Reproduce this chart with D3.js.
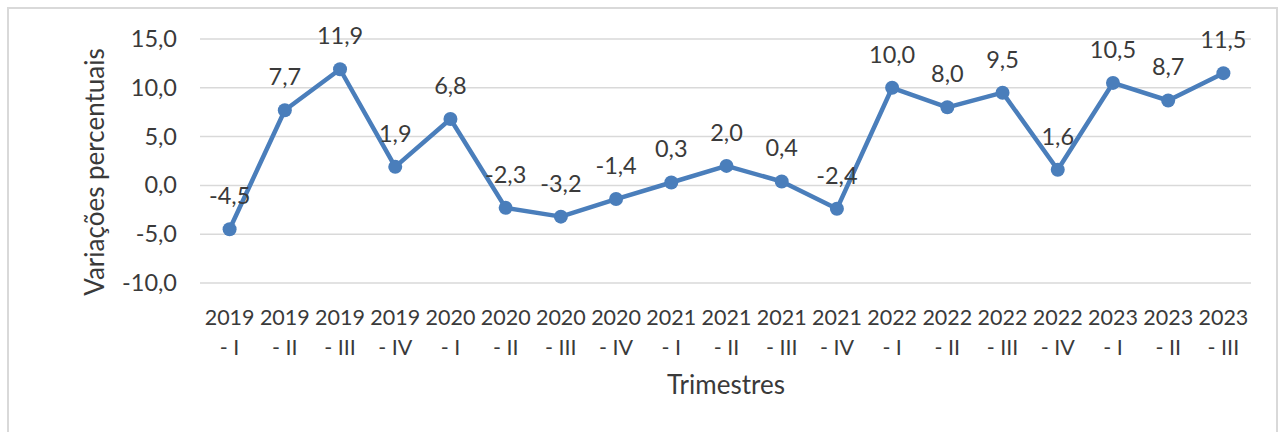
<!DOCTYPE html>
<html><head><meta charset="utf-8">
<script src="https://cdn.jsdelivr.net/npm/d3@7"></script>
<style>
html,body{margin:0;padding:0;background:#fff;}
svg{display:block;}
text{font-family:Lato,"Open Sans",sans-serif;fill:#3a3a3a;}
</style></head><body>
<svg id="chart" width="1280" height="432"></svg>
<script>
const categories = ["2019 - I","2019 - II","2019 - III","2019 - IV","2020 - I","2020 - II","2020 - III","2020 - IV","2021 - I","2021 - II","2021 - III","2021 - IV","2022 - I","2022 - II","2022 - III","2022 - IV","2023 - I","2023 - II","2023 - III"];
const values = [-4.5,7.7,11.9,1.9,6.8,-2.3,-3.2,-1.4,0.3,2.0,0.4,-2.4,10.0,8.0,9.5,1.6,10.5,8.7,11.5];
const yTicks = [-10,-5,0,5,10,15];
const yTitle = "Variações percentuais";
const xTitle = "Trimestres";

const svg = d3.select("#chart");
const fmt = v => d3.format(".1f")(v).replace("−", "-").replace(".", ",");

svg.append("rect").attr("x",8).attr("y",8).attr("width",1269).attr("height",440)
  .attr("fill","#fff").attr("stroke","#d9d9d9").attr("stroke-width",2);

const x = d3.scaleBand().domain(categories).range([202,1251]);
const y = d3.scaleLinear().domain([-10,15]).range([283,39]);

// gridlines
svg.append("g").selectAll("line").data(yTicks).join("line")
  .attr("x1",200).attr("x2",1251)
  .attr("y1",d=>y(d)).attr("y2",d=>y(d))
  .attr("stroke","#d9d9d9").attr("stroke-width",1.5);

// y axis labels
const yAxis = svg.append("g").attr("transform","translate(186,0)")
  .call(d3.axisLeft(y).tickValues(yTicks).tickFormat(fmt).tickSize(0).tickPadding(9));
yAxis.select(".domain").remove();
yAxis.selectAll("text").attr("font-size",23.5).attr("fill","#3a3a3a").attr("font-family","Lato");

// x axis labels (two lines)
const xAxis = svg.append("g").attr("transform","translate(0,296)")
  .call(d3.axisBottom(x).tickSize(0).tickFormat(""));
xAxis.select(".domain").remove();
xAxis.selectAll(".tick").each(function(d){
  const parts = d.split(" - ");
  const g = d3.select(this);
  g.append("text").attr("y",29).attr("text-anchor","middle").attr("font-size",21.5).attr("fill","#3a3a3a").attr("font-family","Lato").text(parts[0]);
  g.append("text").attr("y",59).attr("text-anchor","middle").attr("font-size",21.5).attr("fill","#3a3a3a").attr("font-family","Lato").text("- " + parts[1]);
});

// titles
svg.append("text").attr("transform","translate(104,172) rotate(-90)")
  .attr("text-anchor","middle").attr("font-size",26).text(yTitle);
svg.append("text").attr("x",726).attr("y",394)
  .attr("text-anchor","middle").attr("font-size",26).text(xTitle);

const cx = d => x(d) + x.bandwidth()/2;
const pts = categories.map((c,i)=>({c, v:values[i]}));

svg.append("path").datum(pts)
  .attr("fill","none").attr("stroke","#4a7ebb").attr("stroke-width",4.5).attr("stroke-linejoin","round")
  .attr("d", d3.line().x(d=>cx(d.c)).y(d=>y(d.v)));

svg.append("g").selectAll("circle").data(pts).join("circle")
  .attr("cx",d=>cx(d.c)).attr("cy",d=>y(d.v)).attr("r",7)
  .attr("fill","#4a7ebb");

svg.append("g").selectAll("text").data(pts).join("text")
  .attr("x",d=>cx(d.c)).attr("y",d=>y(d.v)-25)
  .attr("text-anchor","middle").attr("font-size",23.5).text(d=>fmt(d.v));
</script>
</body></html>
